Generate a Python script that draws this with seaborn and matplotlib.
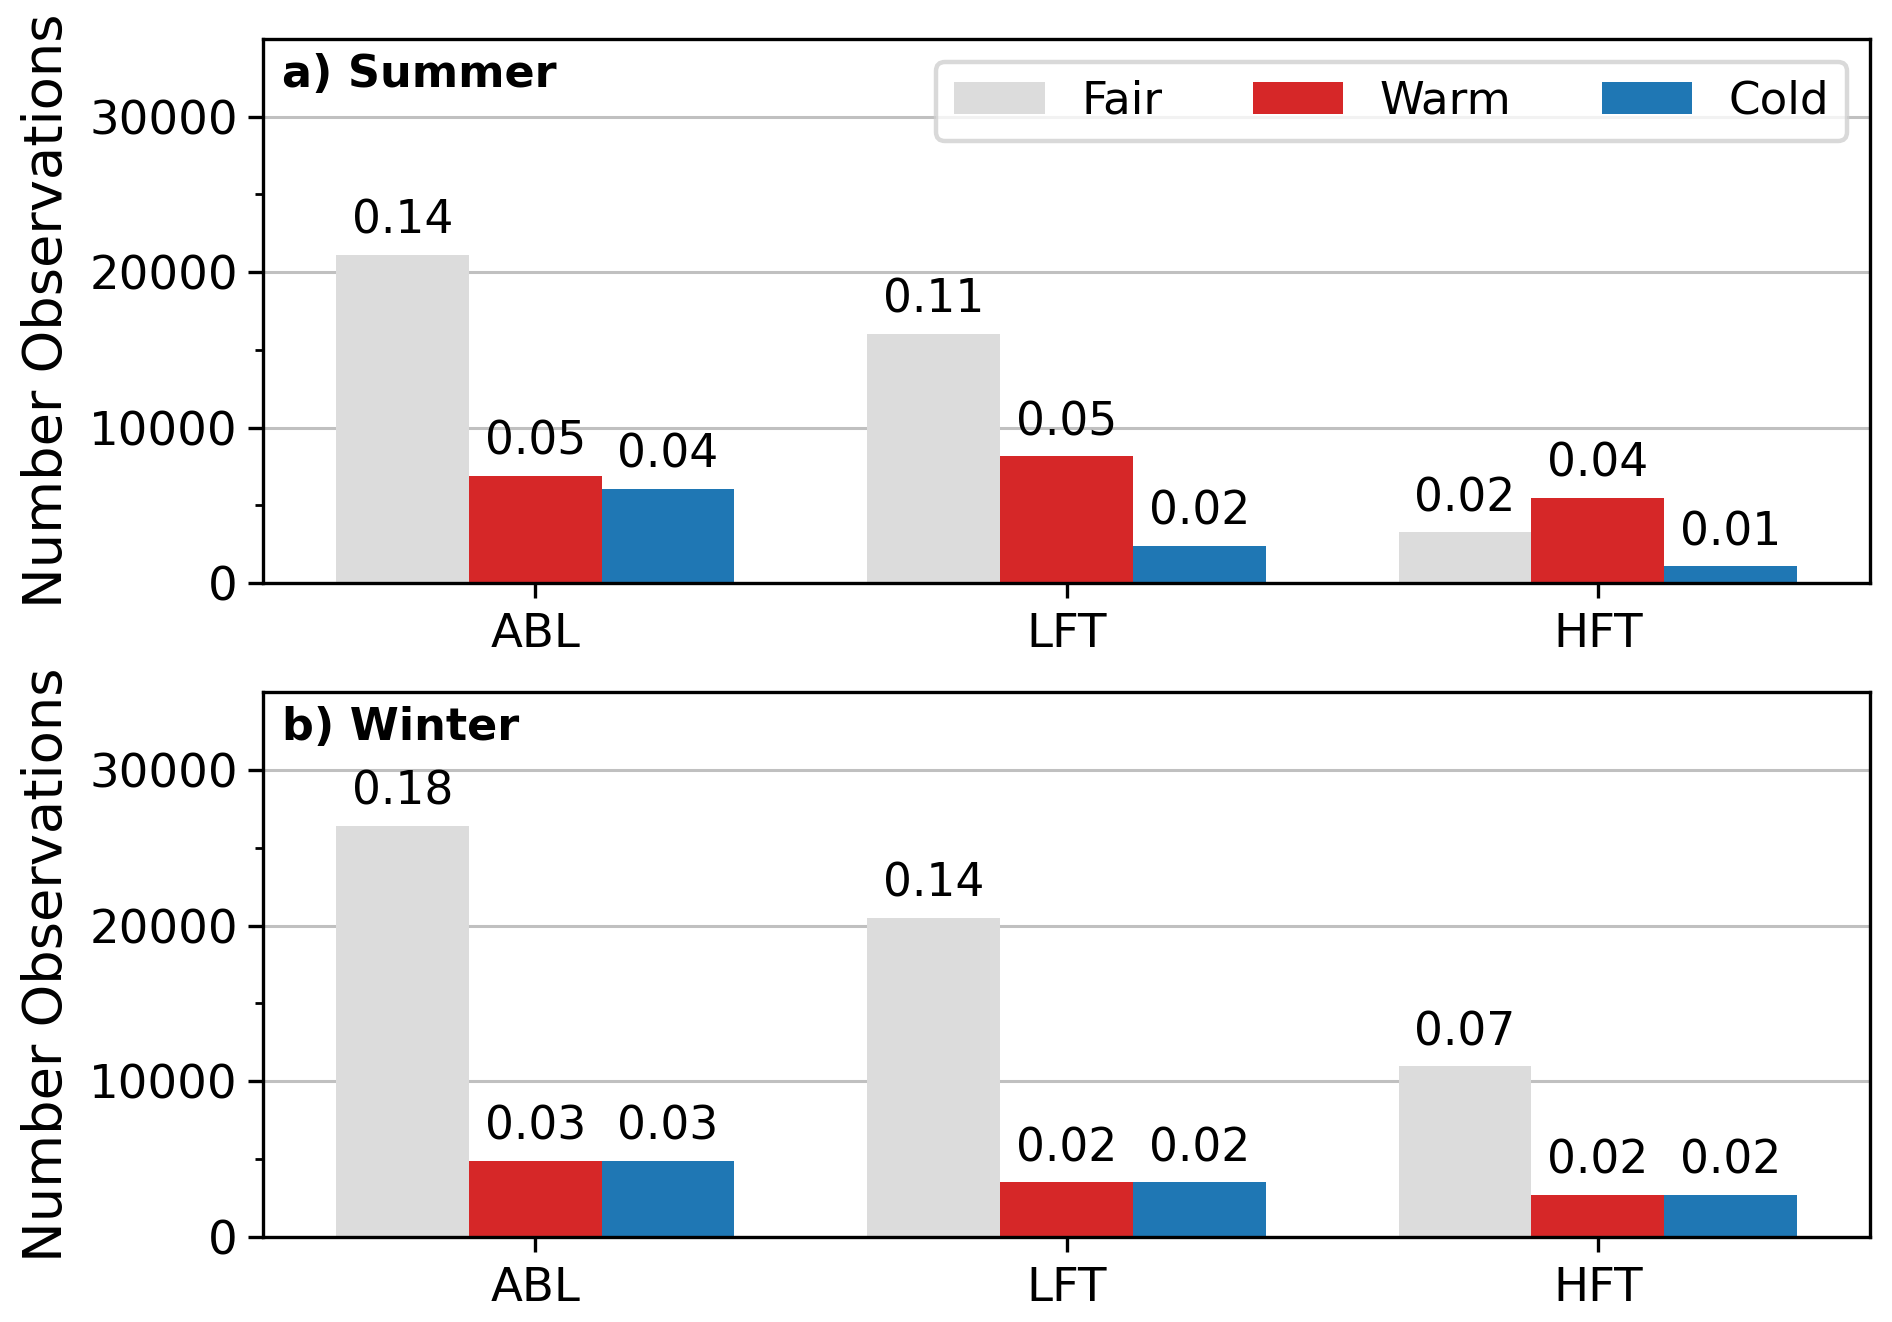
import numpy as np
import pandas as pd
import matplotlib
matplotlib.use('Agg')
import matplotlib.pyplot as plt
import seaborn as sns

layers = ['ABL', 'LFT', 'HFT']
types = ['Fair', 'Warm', 'Cold']
colors = ['#dcdcdc', '#d62728', '#1f77b4']

# counts per layer, one list per type
summer_fair = [21100, 16050, 3250]
summer_warm = [6900, 8150, 5500]
summer_cold = [6050, 2400, 1080]
summer_frac_fair = ['0.14', '0.11', '0.02']
summer_frac_warm = ['0.05', '0.05', '0.04']
summer_frac_cold = ['0.04', '0.02', '0.01']

winter_fair = [26400, 20500, 10950]
winter_warm = [4900, 3500, 2700]
winter_cold = [4900, 3500, 2700]
winter_frac_fair = ['0.18', '0.14', '0.07']
winter_frac_warm = ['0.03', '0.02', '0.02']
winter_frac_cold = ['0.03', '0.02', '0.02']

seasons = [
    ('a) Summer', [summer_fair, summer_warm, summer_cold],
     [summer_frac_fair, summer_frac_warm, summer_frac_cold]),
    ('b) Winter', [winter_fair, winter_warm, winter_cold],
     [winter_frac_fair, winter_frac_warm, winter_frac_cold]),
]

plt.rcParams['font.family'] = ['DejaVu Sans']
plt.rcParams['axes.linewidth'] = 1.2

fig = plt.figure(figsize=(9.46, 6.61), dpi=200)
axes = [fig.add_axes([0.139, 0.559, 0.8494, 0.4115]),
        fig.add_axes([0.139, 0.0643, 0.8494, 0.4123])]

for i, (ax, (title, vals, fracs)) in enumerate(zip(axes, seasons)):
    rows = []
    for t, v in zip(types, vals):
        for l, c in zip(layers, v):
            rows.append({'layer': l, 'type': t, 'count': c})
    df = pd.DataFrame(rows)
    sns.barplot(data=df, x='layer', y='count', hue='type', order=layers,
                hue_order=types, palette=colors, width=0.75, saturation=1,
                ax=ax, legend=(i == 0), errorbar=None)
    for cont, lab in zip(ax.containers, fracs):
        ax.bar_label(cont, labels=lab, padding=4, fontsize=16.4)
    ax.set_ylim(0, 35000)
    ax.set_xlim(-0.5125, 2.5125)
    ax.set_yticks([0, 10000, 20000, 30000])
    ax.set_yticks([5000, 15000, 25000], minor=True)
    ax.grid(axis='y', color='#c0c0c0', linewidth=1.1)
    ax.set_axisbelow(True)
    ax.tick_params(axis='both', which='major', labelsize=16.8, length=5.5,
                   width=1.2)
    ax.tick_params(axis='x', which='major', pad=5)
    ax.tick_params(axis='y', which='minor', length=3, width=1.0)
    ax.set_xlabel('')
    ax.set_ylabel('Number Observations', fontsize=19.6, labelpad=6)
    ax.text(0.012, 0.975, title, transform=ax.transAxes, fontsize=16,
            fontweight='bold', va='top', ha='left')
    if i == 0:
        leg = ax.legend(ncol=3, loc='upper right', fontsize=16.3, title=None)
        leg.get_frame().set_linewidth(1.6)
        leg.get_frame().set_edgecolor('#d0d0d0')

fig.savefig('out.png', dpi=200)
